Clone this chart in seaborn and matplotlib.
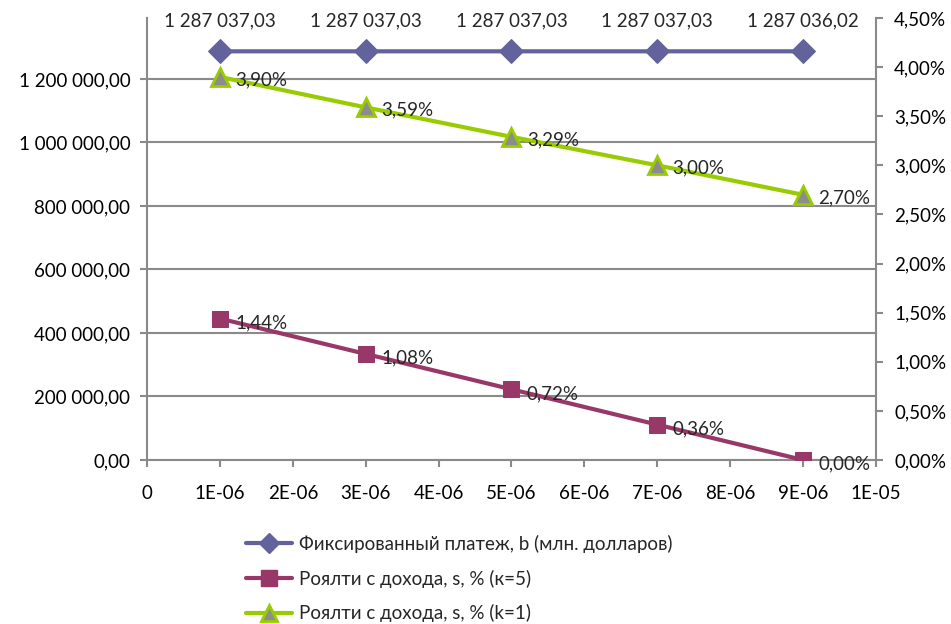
import matplotlib
matplotlib.use("Agg")
import matplotlib.pyplot as plt
from matplotlib.lines import Line2D
import seaborn as sns
import pandas as pd

x_vals = [1e-6, 3e-6, 5e-6, 7e-6, 9e-6]
fixed_payment = [1287037.03, 1287037.03, 1287037.03, 1287037.03, 1287036.02]
royalty_k5 = [1.44, 1.08, 0.72, 0.36, 0.00]
royalty_k1 = [3.90, 3.59, 3.29, 3.00, 2.70]
x_tick_labels = ["0", "1E-06", "2E-06", "3E-06", "4E-06", "5E-06", "6E-06", "7E-06", "8E-06", "9E-06", "1E-05"]
series_names = ["Фиксированный платеж, b (млн. долларов)",
                "Роялти с дохода, s, % (к=5)",
                "Роялти с дохода, s, % (k=1)"]

sns.set_style("white")
plt.rcParams['font.family'] = ['Lato', 'DejaVu Sans']

C_BLUE = "#62629c"
C_MAROON = "#983868"
C_GREEN = "#99cc00"
C_TRI = "#8c8c8c"
C_GRID = "#8a8a8a"
FS = 13.5

fig = plt.figure(figsize=(9.51, 6.24), dpi=100)
ax = fig.add_axes([147/951, 1 - 460/624, (876-147)/951, (460-18)/624])
ax2 = ax.twinx()

df = pd.DataFrame({"x": x_vals, "b": fixed_payment, "k5": royalty_k5, "k1": royalty_k1})

sns.lineplot(data=df, x="x", y="b", ax=ax, color=C_BLUE, lw=3, marker="D",
             markersize=12, markeredgecolor=C_BLUE, zorder=5)
sns.lineplot(data=df, x="x", y="k5", ax=ax2, color=C_MAROON, lw=3, marker="s",
             markersize=12, markeredgecolor=C_MAROON, zorder=5)
sns.lineplot(data=df, x="x", y="k1", ax=ax2, color=C_GREEN, lw=3, marker="^",
             markersize=13, markerfacecolor=C_TRI, markeredgecolor=C_GREEN,
             markeredgewidth=2, zorder=5)

ax.set_xlim(0, 1e-5)
ax.set_ylim(0, 1392000)
ax2.set_ylim(0, 4.5)
ax.set_xticks([i * 1e-6 for i in range(11)])
ax.set_xticklabels(x_tick_labels)
left_ticks = [0, 200000, 400000, 600000, 800000, 1000000, 1200000]
ax.set_yticks(left_ticks)

def fmt_num(v):
    s = f"{v:,.2f}"
    return s.replace(",", " ").replace(".", ",")

ax.set_yticklabels([fmt_num(v) for v in left_ticks])
right_ticks = [i * 0.5 for i in range(10)]
ax2.set_yticks(right_ticks)
ax2.set_yticklabels([f"{v:.2f}%".replace(".", ",") for v in right_ticks])

ax.set_xlabel("")
ax.set_ylabel("")
ax2.set_ylabel("")

ax.grid(axis="y", color=C_GRID, lw=1.5)
ax.set_axisbelow(True)
for a in (ax, ax2):
    for sp in a.spines.values():
        sp.set_visible(False)
for sp_name in ("left", "bottom"):
    ax.spines[sp_name].set_visible(True)
    ax.spines[sp_name].set_color(C_GRID)
    ax.spines[sp_name].set_linewidth(1.5)
ax2.spines["right"].set_visible(True)
ax2.spines["right"].set_color(C_GRID)
ax2.spines["right"].set_linewidth(1.5)

ax.tick_params(axis="both", direction="out", length=5, width=1.5, color=C_GRID,
               labelsize=FS, labelcolor="black", left=True, bottom=True)
ax.tick_params(axis="y", pad=7)
ax.tick_params(axis="x", pad=13)
ax2.tick_params(axis="y", direction="out", length=5, width=1.5, color=C_GRID,
                labelsize=FS, labelcolor="black", right=True, pad=8)

for xv, yv in zip(x_vals, fixed_payment):
    ax.annotate(fmt_num(yv), (xv, yv), xytext=(0, 22), textcoords="offset points",
                ha="center", va="center", fontsize=FS, annotation_clip=False)
for xv, yv in zip(x_vals, royalty_k5):
    ax2.annotate(f"{yv:.2f}%".replace(".", ","), (xv, yv), xytext=(11, -3),
                 textcoords="offset points", ha="left", va="center", fontsize=FS,
                 annotation_clip=False, zorder=6)
for xv, yv in zip(x_vals, royalty_k1):
    ax2.annotate(f"{yv:.2f}%".replace(".", ","), (xv, yv), xytext=(11, -2),
                 textcoords="offset points", ha="left", va="center", fontsize=FS,
                 annotation_clip=False, zorder=6)

handles = [
    Line2D([], [], color=C_BLUE, lw=3, marker="D", markersize=10, markeredgecolor=C_BLUE),
    Line2D([], [], color=C_MAROON, lw=3, marker="s", markersize=11, markeredgecolor=C_MAROON),
    Line2D([], [], color=C_GREEN, lw=3, marker="^", markersize=12, markerfacecolor=C_TRI,
           markeredgecolor=C_GREEN, markeredgewidth=2),
]
fig.legend(handles, series_names, loc="upper left", bbox_to_anchor=(238/951, 1 - 527/624),
           frameon=False, fontsize=FS, handlelength=2.5, labelspacing=0.9,
           handletextpad=0.35, borderaxespad=0)

fig.savefig("out.png", dpi=100)
